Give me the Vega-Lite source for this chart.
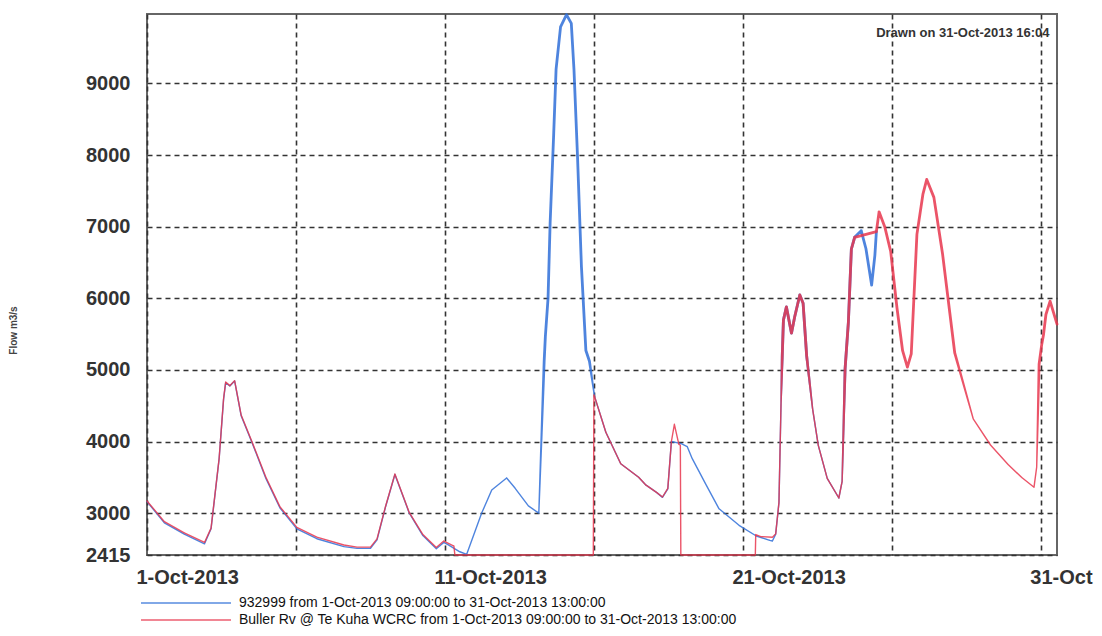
{
  "$schema": "https://vega.github.io/schema/vega-lite/v6.json",
  "width": 910,
  "height": 541,
  "autosize": {"type": "none"},
  "padding": {"left": 147, "top": 14, "right": 45, "bottom": 81},
  "background": "white",
  "config": {
    "font": "Liberation Sans",
    "view": {"stroke": "#666", "strokeWidth": 2}
  },
  "data": {
    "values": [
      {"s": "932999", "t": "2013-10-01T00:00", "v": 3161},
      {"s": "932999", "t": "2013-10-01T14:00", "v": 2864},
      {"s": "932999", "t": "2013-10-02T06:00", "v": 2706},
      {"s": "932999", "t": "2013-10-02T22:20", "v": 2571},
      {"s": "932999", "t": "2013-10-03T03:36", "v": 2781},
      {"s": "932999", "t": "2013-10-03T10:05", "v": 3756},
      {"s": "932999", "t": "2013-10-03T13:41", "v": 4589},
      {"s": "932999", "t": "2013-10-03T15:22", "v": 4821},
      {"s": "932999", "t": "2013-10-03T18:43", "v": 4775},
      {"s": "932999", "t": "2013-10-03T22:34", "v": 4846},
      {"s": "932999", "t": "2013-10-04T03:50", "v": 4361},
      {"s": "932999", "t": "2013-10-04T12:29", "v": 3990},
      {"s": "932999", "t": "2013-10-04T23:46", "v": 3485},
      {"s": "932999", "t": "2013-10-05T11:02", "v": 3074},
      {"s": "932999", "t": "2013-10-06T00:43", "v": 2779},
      {"s": "932999", "t": "2013-10-06T16:48", "v": 2642},
      {"s": "932999", "t": "2013-10-07T14:38", "v": 2532},
      {"s": "932999", "t": "2013-10-08T01:12", "v": 2508},
      {"s": "932999", "t": "2013-10-08T12:00", "v": 2510},
      {"s": "932999", "t": "2013-10-08T17:17", "v": 2627},
      {"s": "932999", "t": "2013-10-09T00:14", "v": 3093},
      {"s": "932999", "t": "2013-10-09T07:41", "v": 3540},
      {"s": "932999", "t": "2013-10-09T19:12", "v": 3003},
      {"s": "932999", "t": "2013-10-10T06:14", "v": 2686},
      {"s": "932999", "t": "2013-10-10T17:02", "v": 2501},
      {"s": "932999", "t": "2013-10-10T23:02", "v": 2590},
      {"s": "932999", "t": "2013-10-11T02:24", "v": 2560},
      {"s": "932999", "t": "2013-10-11T12:00", "v": 2460},
      {"s": "932999", "t": "2013-10-11T17:31", "v": 2425},
      {"s": "932999", "t": "2013-10-12T05:31", "v": 2997},
      {"s": "932999", "t": "2013-10-12T13:41", "v": 3323},
      {"s": "932999", "t": "2013-10-13T01:41", "v": 3490},
      {"s": "932999", "t": "2013-10-13T08:24", "v": 3350},
      {"s": "932999", "t": "2013-10-13T19:12", "v": 3100},
      {"s": "932999", "t": "2013-10-14T03:36", "v": 3000},
      {"s": "932999", "t": "2013-10-14T07:55", "v": 5123},
      {"s": "932999", "t": "2013-10-14T08:53", "v": 5470},
      {"s": "932999", "t": "2013-10-14T11:02", "v": 6000},
      {"s": "932999", "t": "2013-10-14T12:43", "v": 7050},
      {"s": "932999", "t": "2013-10-14T15:36", "v": 8300},
      {"s": "932999", "t": "2013-10-14T17:31", "v": 9200},
      {"s": "932999", "t": "2013-10-14T21:07", "v": 9790},
      {"s": "932999", "t": "2013-10-15T01:55", "v": 9960},
      {"s": "932999", "t": "2013-10-15T05:46", "v": 9840},
      {"s": "932999", "t": "2013-10-15T07:55", "v": 9200},
      {"s": "932999", "t": "2013-10-15T10:48", "v": 7970},
      {"s": "932999", "t": "2013-10-15T13:55", "v": 6450},
      {"s": "932999", "t": "2013-10-15T17:31", "v": 5270},
      {"s": "932999", "t": "2013-10-15T20:24", "v": 5120},
      {"s": "932999", "t": "2013-10-16T00:29", "v": 4630},
      {"s": "932999", "t": "2013-10-16T09:36", "v": 4130},
      {"s": "932999", "t": "2013-10-16T21:36", "v": 3690},
      {"s": "932999", "t": "2013-10-17T12:00", "v": 3500},
      {"s": "932999", "t": "2013-10-17T18:00", "v": 3390},
      {"s": "932999", "t": "2013-10-18T02:24", "v": 3290},
      {"s": "932999", "t": "2013-10-18T07:12", "v": 3220},
      {"s": "932999", "t": "2013-10-18T11:31", "v": 3340},
      {"s": "932999", "t": "2013-10-18T14:24", "v": 4000},
      {"s": "932999", "t": "2013-10-18T22:19", "v": 3970},
      {"s": "932999", "t": "2013-10-19T03:07", "v": 3930},
      {"s": "932999", "t": "2013-10-19T07:12", "v": 3760},
      {"s": "932999", "t": "2013-10-19T18:29", "v": 3390},
      {"s": "932999", "t": "2013-10-20T04:48", "v": 3060},
      {"s": "932999", "t": "2013-10-20T20:53", "v": 2830},
      {"s": "932999", "t": "2013-10-21T10:48", "v": 2680},
      {"s": "932999", "t": "2013-10-21T21:36", "v": 2620},
      {"s": "932999", "t": "2013-10-21T23:46", "v": 2610},
      {"s": "932999", "t": "2013-10-22T02:24", "v": 2706},
      {"s": "932999", "t": "2013-10-22T05:02", "v": 3146},
      {"s": "932999", "t": "2013-10-22T06:43", "v": 4538},
      {"s": "932999", "t": "2013-10-22T07:41", "v": 5186},
      {"s": "932999", "t": "2013-10-22T08:38", "v": 5695},
      {"s": "932999", "t": "2013-10-22T11:02", "v": 5880},
      {"s": "932999", "t": "2013-10-22T15:07", "v": 5513},
      {"s": "932999", "t": "2013-10-22T17:46", "v": 5746},
      {"s": "932999", "t": "2013-10-22T21:50", "v": 6046},
      {"s": "932999", "t": "2013-10-23T00:29", "v": 5931},
      {"s": "932999", "t": "2013-10-23T03:22", "v": 5192},
      {"s": "932999", "t": "2013-10-23T08:10", "v": 4453},
      {"s": "932999", "t": "2013-10-23T12:43", "v": 3945},
      {"s": "932999", "t": "2013-10-23T19:55", "v": 3485},
      {"s": "932999", "t": "2013-10-24T05:17", "v": 3211},
      {"s": "932999", "t": "2013-10-24T07:55", "v": 3444},
      {"s": "932999", "t": "2013-10-24T10:19", "v": 5018},
      {"s": "932999", "t": "2013-10-24T12:58", "v": 5668},
      {"s": "932999", "t": "2013-10-24T15:22", "v": 6688},
      {"s": "932999", "t": "2013-10-24T18:00", "v": 6852},
      {"s": "932999", "t": "2013-10-24T23:17", "v": 6945},
      {"s": "932999", "t": "2013-10-25T03:07", "v": 6692},
      {"s": "932999", "t": "2013-10-25T07:41", "v": 6185},
      {"s": "932999", "t": "2013-10-25T10:19", "v": 6602},
      {"s": "932999", "t": "2013-10-25T11:31", "v": 6932},

      {"s": "Buller Rv @ Te Kuha WCRC", "t": "2013-10-01T00:00", "v": 3170},
      {"s": "Buller Rv @ Te Kuha WCRC", "t": "2013-10-01T14:00", "v": 2880},
      {"s": "Buller Rv @ Te Kuha WCRC", "t": "2013-10-02T06:00", "v": 2725},
      {"s": "Buller Rv @ Te Kuha WCRC", "t": "2013-10-02T22:20", "v": 2590},
      {"s": "Buller Rv @ Te Kuha WCRC", "t": "2013-10-03T03:36", "v": 2790},
      {"s": "Buller Rv @ Te Kuha WCRC", "t": "2013-10-03T10:05", "v": 3760},
      {"s": "Buller Rv @ Te Kuha WCRC", "t": "2013-10-03T13:41", "v": 4600},
      {"s": "Buller Rv @ Te Kuha WCRC", "t": "2013-10-03T15:22", "v": 4830},
      {"s": "Buller Rv @ Te Kuha WCRC", "t": "2013-10-03T18:43", "v": 4780},
      {"s": "Buller Rv @ Te Kuha WCRC", "t": "2013-10-03T22:34", "v": 4850},
      {"s": "Buller Rv @ Te Kuha WCRC", "t": "2013-10-04T03:50", "v": 4370},
      {"s": "Buller Rv @ Te Kuha WCRC", "t": "2013-10-04T12:29", "v": 4000},
      {"s": "Buller Rv @ Te Kuha WCRC", "t": "2013-10-04T23:46", "v": 3500},
      {"s": "Buller Rv @ Te Kuha WCRC", "t": "2013-10-05T11:02", "v": 3090},
      {"s": "Buller Rv @ Te Kuha WCRC", "t": "2013-10-06T00:43", "v": 2800},
      {"s": "Buller Rv @ Te Kuha WCRC", "t": "2013-10-06T16:48", "v": 2665},
      {"s": "Buller Rv @ Te Kuha WCRC", "t": "2013-10-07T14:38", "v": 2555},
      {"s": "Buller Rv @ Te Kuha WCRC", "t": "2013-10-08T01:12", "v": 2525},
      {"s": "Buller Rv @ Te Kuha WCRC", "t": "2013-10-08T12:00", "v": 2525},
      {"s": "Buller Rv @ Te Kuha WCRC", "t": "2013-10-08T17:17", "v": 2640},
      {"s": "Buller Rv @ Te Kuha WCRC", "t": "2013-10-09T00:14", "v": 3100},
      {"s": "Buller Rv @ Te Kuha WCRC", "t": "2013-10-09T07:41", "v": 3545},
      {"s": "Buller Rv @ Te Kuha WCRC", "t": "2013-10-09T19:12", "v": 3010},
      {"s": "Buller Rv @ Te Kuha WCRC", "t": "2013-10-10T06:14", "v": 2700},
      {"s": "Buller Rv @ Te Kuha WCRC", "t": "2013-10-10T17:02", "v": 2520},
      {"s": "Buller Rv @ Te Kuha WCRC", "t": "2013-10-10T23:02", "v": 2610},
      {"s": "Buller Rv @ Te Kuha WCRC", "t": "2013-10-11T02:24", "v": 2580},
      {"s": "Buller Rv @ Te Kuha WCRC", "t": "2013-10-11T07:12", "v": 2540},
      {"s": "Buller Rv @ Te Kuha WCRC", "t": "2013-10-11T08:00", "v": 2415},
      {"s": "Buller Rv @ Te Kuha WCRC", "t": "2013-10-15T23:30", "v": 2415},
      {"s": "Buller Rv @ Te Kuha WCRC", "t": "2013-10-16T00:00", "v": 4650},
      {"s": "Buller Rv @ Te Kuha WCRC", "t": "2013-10-16T00:29", "v": 4630},
      {"s": "Buller Rv @ Te Kuha WCRC", "t": "2013-10-16T09:36", "v": 4130},
      {"s": "Buller Rv @ Te Kuha WCRC", "t": "2013-10-16T21:36", "v": 3690},
      {"s": "Buller Rv @ Te Kuha WCRC", "t": "2013-10-17T12:00", "v": 3500},
      {"s": "Buller Rv @ Te Kuha WCRC", "t": "2013-10-17T18:00", "v": 3390},
      {"s": "Buller Rv @ Te Kuha WCRC", "t": "2013-10-18T02:24", "v": 3290},
      {"s": "Buller Rv @ Te Kuha WCRC", "t": "2013-10-18T07:12", "v": 3225},
      {"s": "Buller Rv @ Te Kuha WCRC", "t": "2013-10-18T11:31", "v": 3345},
      {"s": "Buller Rv @ Te Kuha WCRC", "t": "2013-10-18T14:24", "v": 4000},
      {"s": "Buller Rv @ Te Kuha WCRC", "t": "2013-10-18T16:48", "v": 4240},
      {"s": "Buller Rv @ Te Kuha WCRC", "t": "2013-10-18T20:24", "v": 3960},
      {"s": "Buller Rv @ Te Kuha WCRC", "t": "2013-10-18T21:36", "v": 3950},
      {"s": "Buller Rv @ Te Kuha WCRC", "t": "2013-10-18T22:00", "v": 2415},
      {"s": "Buller Rv @ Te Kuha WCRC", "t": "2013-10-21T10:00", "v": 2415},
      {"s": "Buller Rv @ Te Kuha WCRC", "t": "2013-10-21T10:20", "v": 2700},
      {"s": "Buller Rv @ Te Kuha WCRC", "t": "2013-10-21T14:24", "v": 2672},
      {"s": "Buller Rv @ Te Kuha WCRC", "t": "2013-10-21T23:46", "v": 2662},
      {"s": "Buller Rv @ Te Kuha WCRC", "t": "2013-10-22T02:24", "v": 2710},
      {"s": "Buller Rv @ Te Kuha WCRC", "t": "2013-10-22T05:02", "v": 3146},
      {"s": "Buller Rv @ Te Kuha WCRC", "t": "2013-10-22T06:43", "v": 4538},
      {"s": "Buller Rv @ Te Kuha WCRC", "t": "2013-10-22T07:41", "v": 5186},
      {"s": "Buller Rv @ Te Kuha WCRC", "t": "2013-10-22T08:38", "v": 5695},
      {"s": "Buller Rv @ Te Kuha WCRC", "t": "2013-10-22T11:02", "v": 5880},
      {"s": "Buller Rv @ Te Kuha WCRC", "t": "2013-10-22T15:07", "v": 5513},
      {"s": "Buller Rv @ Te Kuha WCRC", "t": "2013-10-22T17:46", "v": 5746},
      {"s": "Buller Rv @ Te Kuha WCRC", "t": "2013-10-22T21:50", "v": 6046},
      {"s": "Buller Rv @ Te Kuha WCRC", "t": "2013-10-23T00:29", "v": 5931},
      {"s": "Buller Rv @ Te Kuha WCRC", "t": "2013-10-23T03:22", "v": 5192},
      {"s": "Buller Rv @ Te Kuha WCRC", "t": "2013-10-23T08:10", "v": 4453},
      {"s": "Buller Rv @ Te Kuha WCRC", "t": "2013-10-23T12:43", "v": 3945},
      {"s": "Buller Rv @ Te Kuha WCRC", "t": "2013-10-23T19:55", "v": 3485},
      {"s": "Buller Rv @ Te Kuha WCRC", "t": "2013-10-24T05:17", "v": 3211},
      {"s": "Buller Rv @ Te Kuha WCRC", "t": "2013-10-24T07:55", "v": 3444},
      {"s": "Buller Rv @ Te Kuha WCRC", "t": "2013-10-24T10:19", "v": 5018},
      {"s": "Buller Rv @ Te Kuha WCRC", "t": "2013-10-24T12:58", "v": 5668},
      {"s": "Buller Rv @ Te Kuha WCRC", "t": "2013-10-24T15:22", "v": 6688},
      {"s": "Buller Rv @ Te Kuha WCRC", "t": "2013-10-24T18:00", "v": 6852},
      {"s": "Buller Rv @ Te Kuha WCRC", "t": "2013-10-25T11:31", "v": 6932},
      {"s": "Buller Rv @ Te Kuha WCRC", "t": "2013-10-25T13:41", "v": 7207},
      {"s": "Buller Rv @ Te Kuha WCRC", "t": "2013-10-25T18:14", "v": 7000},
      {"s": "Buller Rv @ Te Kuha WCRC", "t": "2013-10-25T23:02", "v": 6654},
      {"s": "Buller Rv @ Te Kuha WCRC", "t": "2013-10-26T04:05", "v": 5868},
      {"s": "Buller Rv @ Te Kuha WCRC", "t": "2013-10-26T08:38", "v": 5268},
      {"s": "Buller Rv @ Te Kuha WCRC", "t": "2013-10-26T12:29", "v": 5038},
      {"s": "Buller Rv @ Te Kuha WCRC", "t": "2013-10-26T15:36", "v": 5224},
      {"s": "Buller Rv @ Te Kuha WCRC", "t": "2013-10-26T20:10", "v": 6893},
      {"s": "Buller Rv @ Te Kuha WCRC", "t": "2013-10-27T00:58", "v": 7450},
      {"s": "Buller Rv @ Te Kuha WCRC", "t": "2013-10-27T04:05", "v": 7660},
      {"s": "Buller Rv @ Te Kuha WCRC", "t": "2013-10-27T09:50", "v": 7409},
      {"s": "Buller Rv @ Te Kuha WCRC", "t": "2013-10-27T16:48", "v": 6622},
      {"s": "Buller Rv @ Te Kuha WCRC", "t": "2013-10-28T02:38", "v": 5236},
      {"s": "Buller Rv @ Te Kuha WCRC", "t": "2013-10-28T17:31", "v": 4317},
      {"s": "Buller Rv @ Te Kuha WCRC", "t": "2013-10-29T07:26", "v": 3951},
      {"s": "Buller Rv @ Te Kuha WCRC", "t": "2013-10-29T21:36", "v": 3679},
      {"s": "Buller Rv @ Te Kuha WCRC", "t": "2013-10-30T08:38", "v": 3497},
      {"s": "Buller Rv @ Te Kuha WCRC", "t": "2013-10-30T18:29", "v": 3362},
      {"s": "Buller Rv @ Te Kuha WCRC", "t": "2013-10-30T20:38", "v": 3641},
      {"s": "Buller Rv @ Te Kuha WCRC", "t": "2013-10-30T22:34", "v": 5078},
      {"s": "Buller Rv @ Te Kuha WCRC", "t": "2013-10-31T00:43", "v": 5356},
      {"s": "Buller Rv @ Te Kuha WCRC", "t": "2013-10-31T02:10", "v": 5495},
      {"s": "Buller Rv @ Te Kuha WCRC", "t": "2013-10-31T04:05", "v": 5774},
      {"s": "Buller Rv @ Te Kuha WCRC", "t": "2013-10-31T07:26", "v": 5960},
      {"s": "Buller Rv @ Te Kuha WCRC", "t": "2013-10-31T13:00", "v": 5639}
    ]
  },
  "layer": [
    {
      "mark": {"type": "trail", "opacity": 0.85},
      "encoding": {
        "x": {
          "field": "t",
          "type": "temporal",
          "scale": {
            "domain": [
              {"year": 2013, "month": 10, "date": 1},
              {"year": 2013, "month": 10, "date": 31, "hours": 13}
            ]
          },
          "axis": {
            "title": null,
            "values": [
              {"year": 2013, "month": 10, "date": 1},
              {"year": 2013, "month": 10, "date": 6},
              {"year": 2013, "month": 10, "date": 11},
              {"year": 2013, "month": 10, "date": 16},
              {"year": 2013, "month": 10, "date": 21},
              {"year": 2013, "month": 10, "date": 26},
              {"year": 2013, "month": 10, "date": 31}
            ],
            "labelExpr": "date(datum.value) == 31 ? '31-Oct' : (date(datum.value) % 10 == 1 ? timeFormat(datum.value, '%-d-%b-%Y') : '')",
            "labelAlign": "left",
            "labelOffset": -11,
            "labelPadding": 12,
            "labelFontSize": 20,
            "labelFontWeight": "bold",
            "labelColor": "#333",
            "labelFlush": false,
            "labelOverlap": false,
            "ticks": false,
            "domain": false,
            "grid": true,
            "gridColor": "#333",
            "gridDash": [5, 4],
            "gridWidth": 1.6,
            "gridOpacity": 1
          }
        },
        "y": {
          "field": "v",
          "type": "quantitative",
          "scale": {"domain": [2415, 9970], "nice": false, "zero": false},
          "axis": {
            "title": "Flow m3/s",
            "titleFontSize": 10,
            "titleFontWeight": "bold",
            "titleColor": "#444",
            "titleX": -129,
            "titleY": 316,
            "values": [2415, 3000, 4000, 5000, 6000, 7000, 8000, 9000],
            "format": "d",
            "labelFontSize": 20,
            "labelFontWeight": "bold",
            "labelColor": "#333",
            "labelPadding": 17,
            "labelFlush": false,
            "labelOverlap": false,
            "ticks": false,
            "domain": false,
            "grid": true,
            "gridColor": "#333",
            "gridDash": [5, 4],
            "gridWidth": 1.6,
            "gridOpacity": 1
          }
        },
        "color": {
          "field": "s",
          "type": "nominal",
          "scale": {
            "domain": ["932999", "Buller Rv @ Te Kuha WCRC"],
            "range": ["#2f6fd8", "#e8364e"]
          },
          "legend": {
            "orient": "none",
            "legendX": 32,
            "legendY": 582,
            "padding": 0,
            "title": null,
            "symbolType": "M-45,0H45",
            "symbolSize": 4,
            "symbolStrokeWidth": 2,
            "symbolOpacity": 0.6,
            "labelFontSize": 14,
            "labelColor": "#111",
            "labelOffset": 46,
            "labelLimit": 0,
            "rowPadding": 3,
            "labelExpr": "datum.label + ' from  1-Oct-2013 09:00:00 to 31-Oct-2013 13:00:00'"
          }
        },
        "size": {
          "field": "v",
          "type": "quantitative",
          "scale": {"type": "threshold", "domain": [5000], "range": [1.4, 2.8]},
          "legend": null
        }
      }
    },
    {
      "data": {"values": [{}]},
      "mark": {"type": "text", "align": "right", "baseline": "middle", "fontSize": 13, "fontWeight": "bold", "color": "#333"},
      "encoding": {
        "x": {"datum": {"year": 2013, "month": 10, "date": 31, "hours": 7}, "type": "temporal"},
        "y": {"datum": 9705, "type": "quantitative"},
        "text": {"value": "Drawn on 31-Oct-2013 16:04"}
      }
    }
  ]
}
